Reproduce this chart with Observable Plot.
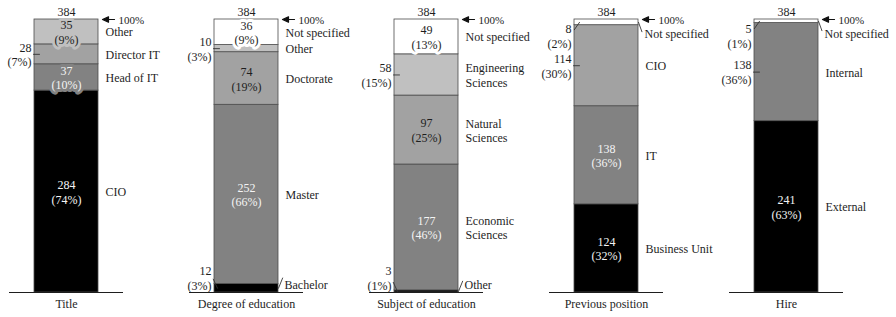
<!DOCTYPE html>
<html>
<head>
<meta charset="utf-8">
<script src="https://cdn.jsdelivr.net/npm/d3@7"></script>
<script src="https://cdn.jsdelivr.net/npm/@observablehq/plot@0.6"></script>
<style>
  html, body { margin: 0; padding: 0; background: #fff; }
</style>
</head>
<body>
<div id="chart"></div>
<script>
// ---- Data ----
const groups = ["Title", "Degree of education", "Subject of education", "Previous position", "Hire"];
const totals = [384, 384, 384, 384, 384];

const titleCategories = ["CIO", "Head of IT", "Director IT", "Other"];
const titleValues = [284, 37, 28, 35];
const titlePercents = [74, 10, 7, 9];

const degreeCategories = ["Bachelor", "Master", "Doctorate", "Other", "Not specified"];
const degreeValues = [12, 252, 74, 10, 36];
const degreePercents = [3, 66, 19, 3, 9];

const subjectCategories = ["Other", "Economic Sciences", "Natural Sciences", "Engineering Sciences", "Not specified"];
const subjectValues = [3, 177, 97, 58, 49];
const subjectPercents = [1, 46, 25, 15, 13];

const previousCategories = ["Business Unit", "IT", "CIO", "Not specified"];
const previousValues = [124, 138, 114, 8];
const previousPercents = [32, 36, 30, 2];

const hireCategories = ["External", "Internal", "Not specified"];
const hireValues = [241, 138, 5];
const hirePercents = [63, 36, 1];

// segments whose count label sits to the left of the bar
const outsideLabels = [
  "Title/Director IT",
  "Degree of education/Other", "Degree of education/Bachelor",
  "Subject of education/Engineering Sciences", "Subject of education/Other",
  "Previous position/CIO", "Previous position/Not specified",
  "Hire/Internal", "Hire/Not specified"
];

// ---- Build table ----
const series = [
  [titleCategories, titleValues, titlePercents],
  [degreeCategories, degreeValues, degreePercents],
  [subjectCategories, subjectValues, subjectPercents],
  [previousCategories, previousValues, previousPercents],
  [hireCategories, hireValues, hirePercents]
];
const shades = ["#000000", "#828282", "#a2a2a2", "#c0c0c0"];
const rows = [];
groups.forEach((g, gi) => {
  const [cats, vals, pcts] = series[gi];
  let acc = 0;
  cats.forEach((c, i) => {
    const y1 = acc, y2 = acc + vals[i];
    acc = y2;
    const fill = c === "Not specified" ? "#ffffff" : shades[i];
    const small = vals[i] < 15;
    const pos = small && i === 0 ? "bottom" : small && i === cats.length - 1 ? "top" : "mid";
    rows.push({
      group: g, category: c, value: vals[i], pct: pcts[i],
      y1, y2, mid: (y1 + y2) / 2, fill,
      ink: (i <= 1 && fill !== "#ffffff") ? "#f4f4f4" : "#1e1e1e",
      outside: outsideLabels.includes(g + "/" + c),
      pos
    });
  });
});
const totalRows = groups.map((g, i) => ({group: g, total: totals[i]}));

const FS = 12;
const HALF = 32;      // half of bar width (px)
const lineShape = {draw(context, l) { context.moveTo(0, 0); context.lineTo(0, -l); }};
const arrowShape = {draw(context, l) {
  context.moveTo(0, 0); context.lineTo(0, -l + 4);
  context.moveTo(-2.7, -l + 6); context.lineTo(0, -l); context.lineTo(2.7, -l + 6); context.closePath();
}};
const countText = d => `${d.value}\n(${d.pct}%)`;
const catText = d => d.category.replace(" Sciences", "\nSciences");

const inside = rows.filter(d => !d.outside);
const leftMid = rows.filter(d => d.outside && d.pos === "mid");
const leftBottom = rows.filter(d => d.outside && d.pos === "bottom");
const leftTop = rows.filter(d => d.outside && d.pos === "top");
const catMid = rows.filter(d => d.pos === "mid");
const catBottom = rows.filter(d => d.pos === "bottom");
const catTop = rows.filter(d => d.pos === "top");

const chart = Plot.plot({
  width: 896,
  height: 317,
  marginTop: 19,
  marginBottom: 25,
  marginLeft: 33,
  marginRight: 77,
  style: {fontFamily: "'Liberation Serif', 'Times New Roman', serif", fontSize: FS + "px", background: "#fff", color: "#1e1e1e"},
  x: {type: "band", domain: groups, paddingInner: 0.645, paddingOuter: 0, tickSize: 0, tickPadding: 7, label: null},
  y: {domain: [0, 384], axis: null},
  color: {type: "identity"},
  marks: [
    Plot.barY(rows, {x: "group", y1: "y1", y2: "y2", fill: "fill", stroke: "#4d4d4d", strokeWidth: 0.8}),
    // baseline under each bar
    Plot.ruleY(groups, {x1: d => d, x2: d => d, y: () => 0, insetLeft: -25, insetRight: -25, stroke: "#1e1e1e", strokeWidth: 1.2}),
    // counts inside bars
    Plot.text(inside, {x: "group", y: "mid", text: countText, fill: "ink", stroke: "fill", strokeWidth: 6,
      strokeLinejoin: "round", paintOrder: "stroke", fontSize: FS, lineHeight: 1.22}),
    // counts to the left
    Plot.text(leftMid, {x: "group", y: "mid", text: countText, textAnchor: "end", dx: -HALF - 3, fontSize: FS, lineHeight: 1.22, fill: "#1e1e1e"}),
    Plot.text(leftBottom, {x: "group", y: () => 0, text: countText, textAnchor: "end", lineAnchor: "bottom", dx: -HALF - 3, dy: -3, fontSize: FS, lineHeight: 1.2, fill: "#1e1e1e"}),
    Plot.text(leftTop, {x: "group", y: "y2", text: countText, textAnchor: "end", lineAnchor: "top", dx: -HALF - 3, dy: 3, fontSize: FS, lineHeight: 1.25, fill: "#1e1e1e"}),
    // category labels to the right
    Plot.text(catMid, {x: "group", y: "mid", text: catText, textAnchor: "start", dx: HALF + 7, fontSize: FS, lineHeight: 1.18, fill: "#1e1e1e"}),
    Plot.text(catBottom, {x: "group", y: () => 0, text: catText, textAnchor: "start", lineAnchor: "bottom", dx: HALF + 6, dy: -4, fontSize: FS, fill: "#1e1e1e"}),
    Plot.text(catTop, {x: "group", y: "y2", text: catText, textAnchor: "start", lineAnchor: "top", dx: HALF + 6, dy: 10, fontSize: FS, fill: "#1e1e1e"}),
    // leader lines
    Plot.vector(leftMid, {x: "group", y: "mid", dx: -HALF - 1, rotate: 90, length: 6, anchor: "start", shape: lineShape, stroke: "#333", strokeWidth: 0.9}),
    Plot.vector(leftBottom, {x: "group", y: "mid", dx: -HALF + 3, rotate: -25, length: 10, anchor: "start", shape: lineShape, stroke: "#333", strokeWidth: 0.8}),
    Plot.vector(catBottom, {x: "group", y: "mid", dx: HALF, rotate: 22, length: 11, anchor: "start", shape: lineShape, stroke: "#333", strokeWidth: 0.8}),
    Plot.vector(leftTop, {x: "group", y: "mid", dx: -HALF + 5, rotate: 215, length: 9, anchor: "start", shape: lineShape, stroke: "#333", strokeWidth: 0.8}),
    Plot.vector(catTop, {x: "group", y: "mid", dx: HALF, rotate: 160, length: 10, anchor: "start", shape: lineShape, stroke: "#333", strokeWidth: 0.8}),
    // totals and 100% markers
    Plot.text(totalRows, {x: "group", y: "total", text: d => String(d.total), dy: -7, fontSize: FS, fill: "#1e1e1e"}),
    Plot.vector(totalRows, {x: "group", y: "total", dx: HALF + 16, rotate: -90, length: 12, anchor: "start", shape: arrowShape, stroke: "#111", fill: "#111", strokeWidth: 1.2}),
    Plot.text(totalRows, {x: "group", y: "total", text: () => "100%", textAnchor: "start", dx: HALF + 20, dy: 1, fontSize: 11, fill: "#1e1e1e"})
  ]
});
document.getElementById("chart").appendChild(chart);
</script>
</body>
</html>
